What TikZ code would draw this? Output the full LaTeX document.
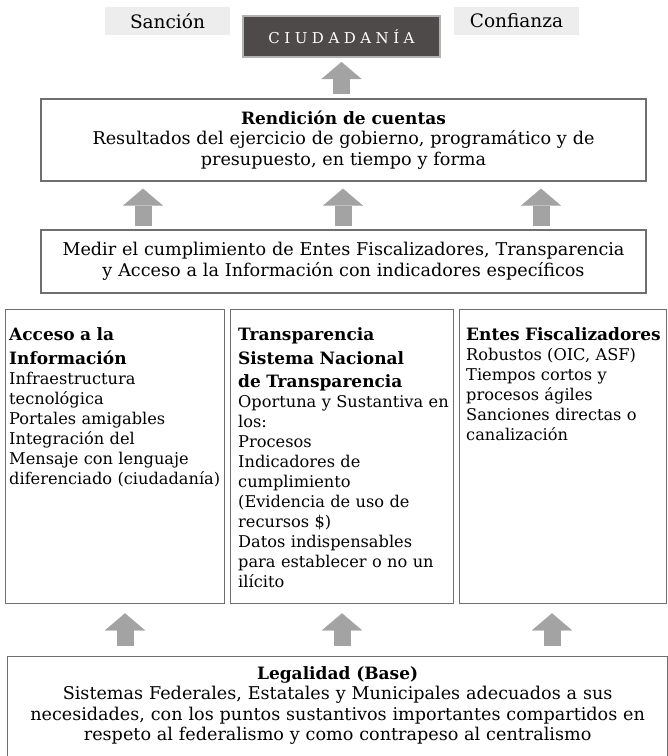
\documentclass[tikz,border=0pt]{standalone}
\usepackage{fontspec}
\setmainfont{DejaVu Serif}
\newfontfamily\capsfont[LetterSpace=30]{DejaVu Serif}
\usetikzlibrary{calc,arrows.meta}
\definecolor{boxline}{HTML}{6F6F6F}
\definecolor{arrowgray}{HTML}{A3A3A3}
\definecolor{citizen}{HTML}{4E4A4A}
\definecolor{tagfill}{HTML}{EDEDED}
\newcommand\bodyfont{\fontsize{16.2}{20}\selectfont}
\newcommand\widefont{\fontsize{17.6}{20.5}\selectfont}
\newcommand\headfont{\fontsize{17}{23.5}\selectfont\bfseries}

\begin{document}
\begin{tikzpicture}[x=1pt,y=-1pt,
  frame/.style={draw=boxline,line width=1.3pt,inner sep=0pt},
  tag/.style={fill=tagfill,minimum width=125,minimum height=28,inner sep=0pt,font=\fontsize{18.5}{20}\selectfont},
  coltext/.style={anchor=north west,inner sep=0pt,text width=#1,align=left,font=\bodyfont},
  uparr/.style={arrowgray,line width=17pt,-{Triangle[width=40pt,length=17pt,line width=0.1pt]}}]
\useasboundingbox (0,0) rectangle (668,756);

% top row
\node[tag] (sanc) at (167.5,21) {Sanción};
\node[tag] (conf) at (516.5,21) {Confianza};
\node[fill=citizen,draw=gray!60,line width=2pt,minimum width=197,minimum height=41,
  inner sep=0pt,text=white,font=\capsfont\fontsize{15}{17}\selectfont] (ciu) at (341.5,36.5) {CIUDADANÍA};

% wide boxes
\node[frame,minimum width=605,minimum height=82,text width=600,align=center,font=\widefont] (rend) at (343.5,140)
  {{\headfont Rendición de cuentas\\}Resultados del ejercicio de gobierno, programático y de\\presupuesto, en tiempo y forma};
\node[frame,minimum width=605,minimum height=63,text width=600,align=center,font=\widefont] (medir) at (343.5,261.5)
  {Medir el cumplimiento de Entes Fiscalizadores, Transparencia\\y Acceso a la Información con indicadores específicos};

% three columns
\node[frame,anchor=north west,minimum width=219,minimum height=294] (acc) at (5,309) {};
\node[frame,anchor=north west,minimum width=223,minimum height=294] (trans) at (230,309) {};
\node[frame,anchor=north west,minimum width=207,minimum height=294] (entes) at (459,309) {};
\node[coltext=214] (acctxt) at ([shift={(4,18.5)}]acc.north west)
  {{\headfont Acceso a la\\Información\\}Infraestructura\\tecnológica\\Portales amigables\\Integración del\\Mensaje con lenguaje\\diferenciado (ciudadanía)};
\node[coltext=214] (transtxt) at ([shift={(8,18.5)}]trans.north west)
  {{\headfont Transparencia\\Sistema Nacional\\de Transparencia\\}Oportuna y Sustantiva en\\los:\\Procesos\\Indicadores de\\cumplimiento\\(Evidencia de uso de\\recursos \$)\\Datos indispensables\\para establecer o no un\\ilícito};
\node[coltext=206] (entestxt) at ([shift={(7,18.5)}]entes.north west)
  {{\headfont Entes Fiscalizadores\\}Robustos (OIC, ASF)\\Tiempos cortos y\\procesos ágiles\\Sanciones directas o\\canalización};

% base
\node[frame,anchor=north west,minimum width=660,minimum height=120] (legal) at (7,656) {};
\node[anchor=north,inner sep=0pt,text width=650,align=center,font=\widefont] (legaltxt) at ([yshift=-10pt]legal.north)
  {{\headfont Legalidad (Base)\\}Sistemas Federales, Estatales y Municipales adecuados a sus\\necesidades, con los puntos sustantivos importantes compartidos en\\respeto al federalismo y como contrapeso al centralismo};

% arrows
\draw[uparr] ($(ciu.south |- rend.north)+(0,-4)$) -- ($(ciu.south)+(0,4)$);
\foreach \ax in {143,343,541}
  \draw[uparr] ($(\ax,0 |- medir.north)+(0,-3)$) -- ($(\ax,0 |- rend.south)+(0,7)$);
\foreach \ax in {125,342,552}
  \draw[uparr] ($(\ax,0 |- legal.north)+(0,-10)$) -- ($(\ax,0 |- acc.south)+(0,9)$);
\end{tikzpicture}
\end{document}
